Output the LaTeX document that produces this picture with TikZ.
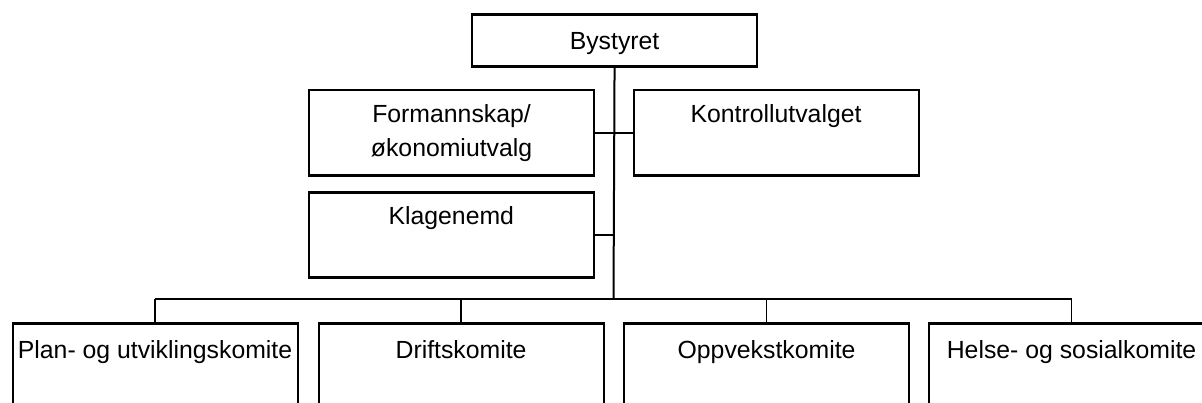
\documentclass[tikz,border=0pt]{standalone}
\usepackage{fontspec}
\setmainfont{Liberation Sans}
\usetikzlibrary{calc}
\begin{document}
\begin{tikzpicture}[x=1pt,y=-1pt,
  box/.style={draw, line width=2.1pt, minimum width=285pt, minimum height=85pt, inner sep=0pt, anchor=north west},
  lbl/.style={font=\fontsize{24.8}{33.7}\selectfont, anchor=base, align=center, inner sep=0pt},
  conn/.style={line width=2pt},
  drop/.style={line width=1.4pt}]
\useasboundingbox (0,0) rectangle (1202,403);
\clip (0,0) rectangle (1202,403);
% boxes
\node[box, minimum height=52pt] (by) at (471,13.5) {};
\node[box, minimum height=85.5pt] (fo) at (308,89) {};
\node[box, minimum height=85.5pt] (ko) at (632.5,89) {};
\node[box, minimum width=284.5pt] (kl) at (308,191.5) {};
\node[box, minimum height=120pt] (pl) at (11.5,322.5) {};
\node[box, minimum height=120pt] (dr) at (317.5,322.5) {};
\node[box, minimum height=120pt] (op) at (623,322.5) {};
\node[box, minimum height=120pt] (he) at (928,322.5) {};
% texts
\node[lbl] (byt) at (by.center |- 0,49.5) {Bystyret};
\node[lbl] (fot) at (fo.center |- 0,156.2) {Formannskap/\\økonomiutvalg};
\node[lbl] (kot) at (ko.center |- 0,122.5) {Kontrollutvalget};
\node[lbl] (klt) at (kl.center |- 0,225) {Klagenemd};
\node[lbl] (plt) at (pl.north |- 0,358) {Plan- og utviklingskomite};
\node[lbl] (drt) at (dr.north |- 0,358) {Driftskomite};
\node[lbl] (opt) at (op.north |- 0,358) {Oppvekstkomite};
\node[lbl] (het) at (he.north |- 0,358) {Helse- og sosialkomite};
% connectors
\coordinate (bus) at (613.5,299.5);
\draw[conn] (by.south) -- (bus);
\draw[conn] (fo.east) -- (ko.west);
\draw[conn] (kl.east) -- (kl.east -| by.south);
\draw[conn] (pl.north |- bus) -- (he.north |- bus);
\draw[drop] (pl.north) -- (pl.north |- bus);
\draw[drop] (dr.north) -- (dr.north |- bus);
\draw[drop] (op.north) -- (op.north |- bus);
\draw[drop] (he.north) -- (he.north |- bus);
\end{tikzpicture}
\end{document}
